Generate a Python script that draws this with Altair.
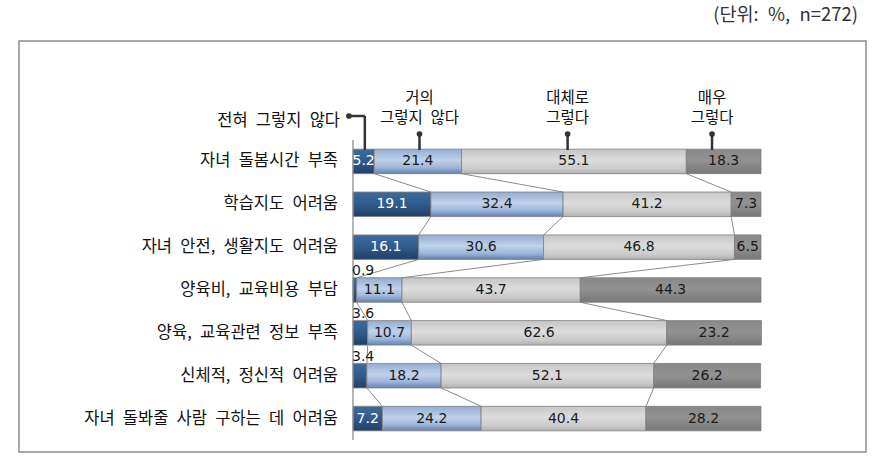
import altair as alt
import pandas as pd

categories = ["자녀 돌봄시간 부족", "학습지도 어려움", "자녀 안전, 생활지도 어려움",
              "양육비, 교육비용 부담", "양육, 교육관련 정보 부족", "신체적, 정신적 어려움",
              "자녀 돌봐줄 사람 구하는 데 어려움"]
series = ["전혀 그렇지 않다", "거의 그렇지 않다", "대체로 그렇다", "매우 그렇다"]
v1 = [5.2, 19.1, 16.1, 0.9, 3.6, 3.4, 7.2]
v2 = [21.4, 32.4, 30.6, 11.1, 10.7, 18.2, 24.2]
v3 = [55.1, 41.2, 46.8, 43.7, 62.6, 52.1, 40.4]
v4 = [18.3, 7.3, 6.5, 44.3, 23.2, 26.2, 28.2]
anno_top = ["거의", "대체로", "매우"]
anno_bottom = ["그렇지 않다", "그렇다", "그렇다"]
anno_x = [16.3, 52.6, 88.0]
first_anno_x = 2.9
title_text = "(단위: %, n=272)"

WS = "\u2002"  # wider space, as in the original's typeface


def wide(t):
    return t.replace(" ", WS)


values = [v1, v2, v3, v4]
H = 0.286  # half bar height in row units

rows = []
for r, cat in enumerate(categories):
    cum = 0.0
    for s in range(4):
        v = values[s][r]
        rows.append(dict(row=r, cat=cat, s=s, start=cum, end=cum + v, value=v,
                         mid=cum + v / 2, yc=r + 0.5, y0=r + 0.5 - H, y1=r + 0.5 + H,
                         label=f"{v:.1f}"))
        cum += v
seg = pd.DataFrame(rows)

conn = []
for r in range(len(categories) - 1):
    a = seg[seg.row == r].reset_index(drop=True)
    b = seg[seg.row == r + 1].reset_index(drop=True)
    for k in range(3):
        conn.append(dict(xa=a.end[k], xb=b.end[k], ya=r + 0.5 + H, yb=r + 1.5 - H))
conn = pd.DataFrame(conn)

X = lambda f: alt.X(f, type="quantitative", scale=alt.Scale(domain=[0, 100]), axis=None)
Y = lambda f: alt.Y(f, type="quantitative", scale=alt.Scale(domain=[0, 7], reverse=True), axis=None)


def grad(stops):
    return alt.Gradient(gradient="linear", x1=0, y1=0, x2=0, y2=1,
                        stops=[alt.GradientStop(offset=o, color=c) for o, c in stops])


fills = [
    grad([(0, "#3d6a9c"), (0.5, "#305b8c"), (1, "#213f66")]),
    grad([(0, "#93acd0"), (0.45, "#c0d2eb"), (0.75, "#9db5d8"), (1, "#6381ad")]),
    grad([(0, "#c6c6c6"), (0.45, "#dcdcdc"), (0.8, "#cacaca"), (1, "#b0b0b0")]),
    grad([(0, "#888888"), (0.45, "#929292"), (1, "#787878")]),
]

KFONT = "Noto Sans CJK KR"
layers = []

# frame
layers.append(alt.Chart(pd.DataFrame({"a": [0]})).mark_rect(
    fillOpacity=0, stroke="#8c8c8c", strokeWidth=1.5).encode(
    x=alt.value(-334), x2=alt.value(513), y=alt.value(-99), y2=alt.value(312)))

# title
layers.append(alt.Chart(pd.DataFrame({"t": [wide(title_text)]})).mark_text(
    align="right", baseline="middle", font=KFONT, fontSize=18.5, color="#333333").encode(
    x=alt.value(505), y=alt.value(-125), text="t:N"))

# connectors
layers.append(alt.Chart(conn).mark_rule(color="#8c8c8c", strokeWidth=1).encode(
    x=X("xa"), x2="xb", y=Y("ya"), y2="yb"))

# bars
for s in range(4):
    layers.append(alt.Chart(seg[seg.s == s]).mark_rect(
        fill=fills[s], stroke="#7f7f7f", strokeWidth=0.8).encode(
        x=X("start"), x2="end", y=Y("y0"), y2="y1"))

# left axis line
layers.append(alt.Chart(pd.DataFrame({"a": [0]})).mark_rule(color="#8c8c8c", strokeWidth=1.3).encode(
    x=alt.value(0), y=alt.value(0), y2=alt.value(300)))

num_font = dict(font="DejaVu Sans", fontSize=14, baseline="middle")
big = seg[seg.value >= 5]
small = seg[seg.value < 5]
layers.append(alt.Chart(big[big.s == 0]).mark_text(color="white", **num_font).encode(
    x=X("mid"), y=Y("yc"), text="label:N"))
layers.append(alt.Chart(big[big.s > 0]).mark_text(color="#1a1a1a", **num_font).encode(
    x=X("mid"), y=Y("yc"), text="label:N"))
layers.append(alt.Chart(small).mark_text(color="#1a1a1a", align="left", dy=-19, dx=-1, **num_font).encode(
    x=X("start"), y=Y("yc"), text="label:N"))

# category labels
cat_df = pd.DataFrame({"cat": [wide(c) for c in categories],
                       "yc": [r + 0.5 for r in range(len(categories))]})
layers.append(alt.Chart(cat_df).mark_text(
    align="right", baseline="middle", font=KFONT, fontSize=16.5, color="#111111").encode(
    x=alt.value(-15), y=Y("yc"), text="cat:N"))

# annotations
lead = "#333333"
first = pd.DataFrame({"x0": [-1.0], "x1": [first_anno_x], "t": [wide(series[0])]})
layers.append(alt.Chart(first).mark_rule(color=lead, strokeWidth=2.5).encode(
    x=X("x0"), x2="x1", y=alt.value(-24)))
layers.append(alt.Chart(first).mark_rule(color=lead, strokeWidth=2.5).encode(
    x=X("x1"), y=alt.value(-24), y2=alt.value(10)))
layers.append(alt.Chart(first).mark_circle(color=lead, size=32, opacity=1).encode(
    x=X("x0"), y=alt.value(-24)))
layers.append(alt.Chart(first).mark_text(
    align="right", baseline="middle", font=KFONT, fontSize=16.5, color="#111111").encode(
    x=alt.value(-13), y=alt.value(-19), text="t:N"))

ann = pd.DataFrame({"x": anno_x, "top": [wide(t) for t in anno_top],
                    "bottom": [wide(t) for t in anno_bottom]})
layers.append(alt.Chart(ann).mark_rule(color=lead, strokeWidth=2.5).encode(
    x=X("x"), y=alt.value(-6), y2=alt.value(10)))
layers.append(alt.Chart(ann).mark_circle(color=lead, size=32, opacity=1).encode(
    x=X("x"), y=alt.value(-6)))
layers.append(alt.Chart(ann).mark_text(
    align="center", baseline="middle", font=KFONT, fontSize=15.5, color="#111111").encode(
    x=X("x"), y=alt.value(-42), text="top:N"))
layers.append(alt.Chart(ann).mark_text(
    align="center", baseline="middle", font=KFONT, fontSize=15.5, color="#111111").encode(
    x=X("x"), y=alt.value(-22), text="bottom:N"))

chart = alt.layer(*layers).properties(
    width=408, height=300,
    padding={"left": 353, "top": 140, "right": 116, "bottom": 27},
    autosize=alt.AutoSizeParams(type="none"),
    background="white",
).configure_view(strokeWidth=0)

chart.save("out.html", embed_options={"renderer": "svg", "actions": False})
